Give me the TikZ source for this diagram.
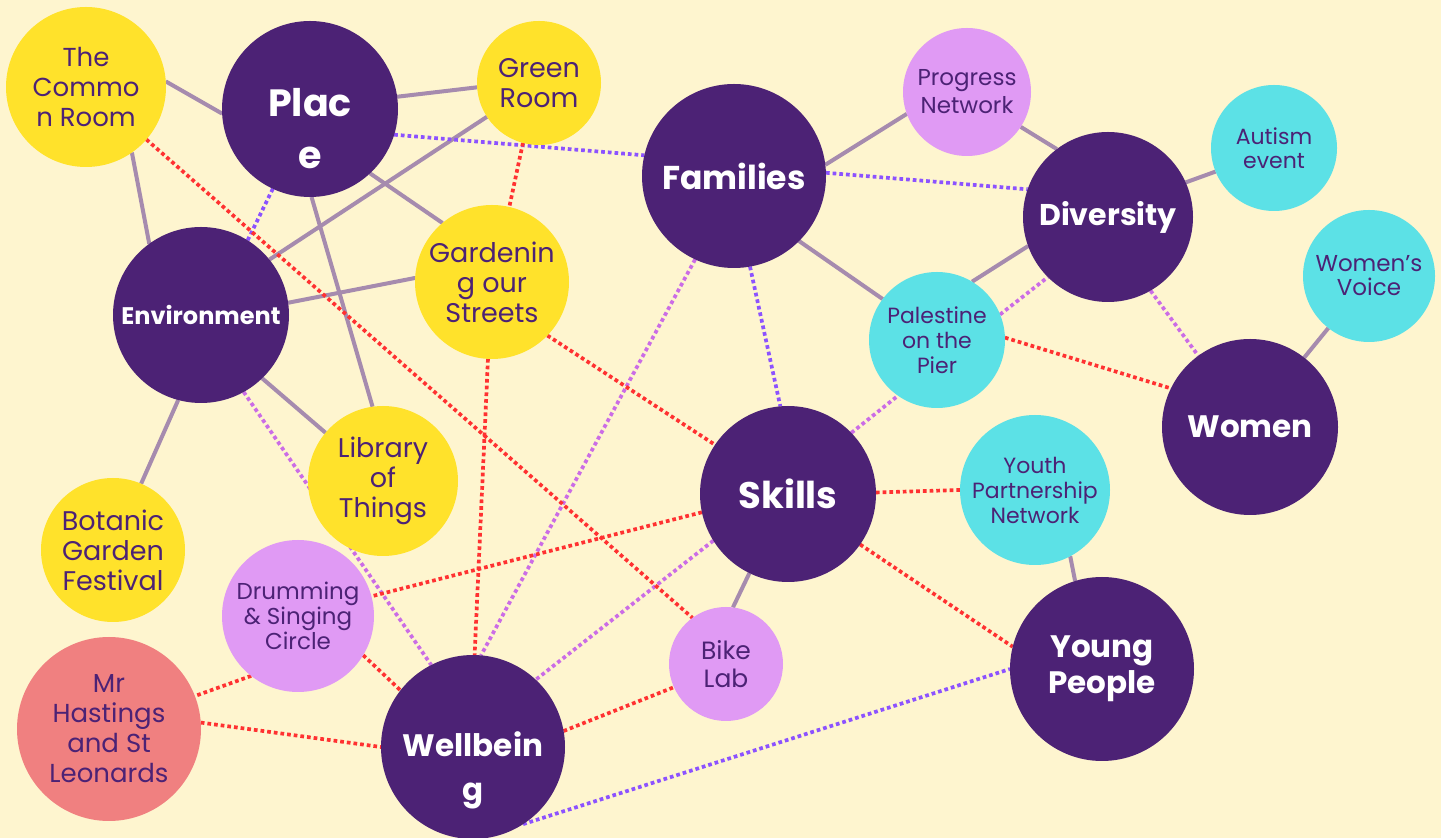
\documentclass[tikz,border=0pt]{standalone}
\usepackage{fontspec}
\setmainfont{Poppins}
\usepackage{tikz}
\newcommand{\fsz}[2]{\fontsize{#1}{#2}\selectfont}
\definecolor{cream}{HTML}{FEF5CF}
\definecolor{hubpurple}{HTML}{4C2275}
\definecolor{sun}{HTML}{FFE22B}
\definecolor{aqua}{HTML}{5CE1E6}
\definecolor{lilac}{HTML}{E09AF4}
\definecolor{salmon}{HTML}{F08080}
\definecolor{tiegrey}{HTML}{A68BAE}
\definecolor{violetdot}{HTML}{8C52FF}
\definecolor{reddot}{HTML}{FF3131}
\definecolor{lilacdot}{HTML}{CB6CE6}
\pgfdeclarelayer{bg}
\pgfdeclarelayer{links}
\pgfsetlayers{bg,links,main}

\begin{document}
\begin{tikzpicture}[x=0.5pt,y=-0.5pt,
    hub/.style={circle, fill=hubpurple, text=white, inner sep=0pt, outer sep=0pt, align=center},
    leaf/.style={circle, fill=#1, text=hubpurple, inner sep=0pt, outer sep=0pt, align=center},
    tie/.style={draw=tiegrey, line width=2pt},
    dots/.style={draw=#1, line width=1.85pt, dash pattern=on 1.85pt off 1.5pt}]
    \useasboundingbox (0,0) rectangle (1441,838);
    \begin{pgfonlayer}{bg}
        \fill[cream] (0,0) rectangle (1441,838);
    \end{pgfonlayer}

    % themes
    \node[hub, minimum size=88pt,
          label={[text=white, align=center, font=\fsz{19}{26}\bfseries, yshift=-10pt]center:{Plac\\e}}] (place) at (310,109) {};
    \node[hub, minimum size=88pt, font=\fsz{12}{14}\bfseries] (env) at (201,315) {Environment};
    \node[hub, minimum size=92pt, font=\fsz{16.5}{20}\bfseries] (families) at (734,176) {Families};
    \node[hub, minimum size=85pt, font=\fsz{15}{18}\bfseries] (diversity) at (1108,217) {Diversity};
    \node[hub, minimum size=88pt, font=\fsz{15.5}{18}\bfseries] (women) at (1250,427) {Women};
    \node[hub, minimum size=88pt, font=\fsz{18.5}{22}\bfseries] (skills) at (788,494) {Skills};
    \node[hub, minimum size=92pt, font=\fsz{15.5}{18}\bfseries] (young) at (1102,669) {Young\\People};
    \node[hub, minimum size=92pt,
          label={[text=white, align=center, font=\fsz{15.5}{22}\bfseries, yshift=-11.5pt]center:{Wellbein\\g}}] (wellbeing) at (473,747) {};

    % projects
    \node[leaf=sun, minimum size=80pt, font=\fsz{13}{15}] (common) at (86,87) {The\\Commo\\n Room};
    \node[leaf=sun, minimum size=62pt, font=\fsz{13.5}{15}] (green) at (539,83) {Green\\Room};
    \node[leaf=sun, minimum size=77pt, font=\fsz{13.5}{15}] (garden) at (492,282) {Gardenin\\g our\\Streets};
    \node[leaf=sun, minimum size=75pt, font=\fsz{13.5}{15}] (library) at (383,481) {Library\\of\\Things};
    \node[leaf=sun, minimum size=72pt, font=\fsz{13.5}{15}] (botanic) at (113,550) {Botanic\\Garden\\Festival};
    \node[leaf=lilac, minimum size=64pt, font=\fsz{11.5}{14}] (progress) at (967,92) {Progress\\Network};
    \node[leaf=lilac, minimum size=76pt, font=\fsz{11.5}{12.5}] (drumming) at (298,616) {Drumming\\\& Singing\\Circle};
    \node[leaf=lilac, minimum size=57pt, font=\fsz{12.5}{14}] (bike) at (726,664) {Bike\\Lab};
    \node[leaf=aqua, minimum size=63pt, font=\fsz{11}{12}] (autism) at (1274,148) {Autism\\event};
    \node[leaf=aqua, minimum size=66pt, font=\fsz{11.5}{12}] (voice) at (1369,276) {Women’s\\Voice};
    \node[leaf=aqua, minimum size=68pt, font=\fsz{11}{12.5}] (palestine) at (937,340) {Palestine\\on the\\Pier};
    \node[leaf=aqua, minimum size=75pt, font=\fsz{11}{12.5}] (youth) at (1035,490) {Youth\\Partnership\\Network};
    \node[leaf=salmon, minimum size=92pt, font=\fsz{13}{15}] (hastings) at (109,729) {Mr\\Hastings\\and St\\Leonards};

    \begin{pgfonlayer}{links}
        % solid ties
        \draw[tie] (common.4) -- (place.183);
        \draw[tie] (common.-55) -- (env.126);
        \draw[tie] (place.8) -- (green.184);
        \draw[tie] (place.-47) -- (garden.130);
        \draw[tie] (place.-89) -- (library.98);
        \draw[tie] (green.213) -- (env.39);
        \draw[tie] (env.8) -- (garden.177);
        \draw[tie] (env.-46) -- (library.140);
        \draw[tie] (env.-105) -- (botanic.67);
        \draw[tie] (families.7) -- (progress.200);
        \draw[tie] (families.-45) -- (palestine.143);
        \draw[tie] (progress.-33) -- (diversity.127);
        \draw[tie] (diversity.24) -- (autism.202);
        \draw[tie] (diversity.200) -- (palestine.59);
        \draw[tie] (women.52) -- (voice.232);
        \draw[tie] (skills.-116) -- (bike.83);
        \draw[tie] (youth.-62) -- (young.107);
        % violet dots
        \draw[dots=violetdot] (place.-17) -- (families.167);
        \draw[dots=violetdot] (place.-115) -- (env.58);
        \draw[dots=violetdot] (families.2) -- (diversity.161);
        \draw[dots=violetdot] (families.-80) -- (skills.95);
        \draw[dots=violetdot] (wellbeing.-57) -- (young.180);
        % lilac dots
        \draw[dots=lilacdot] (families.-115) -- (wellbeing.85);
        \draw[dots=lilacdot] (env.-61) -- (wellbeing.117);
        \draw[dots=lilacdot] (skills.212) -- (wellbeing.47);
        \draw[dots=lilacdot] (skills.44) -- (palestine.235);
        \draw[dots=lilacdot] (palestine.22) -- (diversity.225);
        \draw[dots=lilacdot] (diversity.-60) -- (women.126);
        % red dots
        \draw[dots=reddot] (common.-41) -- (bike.126);
        \draw[dots=reddot] (green.-105) -- (garden.77);
        \draw[dots=reddot] (garden.-44) -- (skills.146);
        \draw[dots=reddot] (garden.-93) -- (wellbeing.89);
        \draw[dots=reddot] (skills.192) -- (drumming.15);
        \draw[dots=reddot] (skills.1) -- (youth.180);
        \draw[dots=reddot] (skills.-35) -- (young.166);
        \draw[dots=reddot] (palestine.2) -- (women.154);
        \draw[dots=reddot] (drumming.232) -- (hastings.21);
        \draw[dots=reddot] (drumming.-31) -- (wellbeing.142);
        \draw[dots=reddot] (hastings.4) -- (wellbeing.180);
        \draw[dots=reddot] (wellbeing.10) -- (bike.204);
    \end{pgfonlayer}
\end{tikzpicture}
\end{document}
